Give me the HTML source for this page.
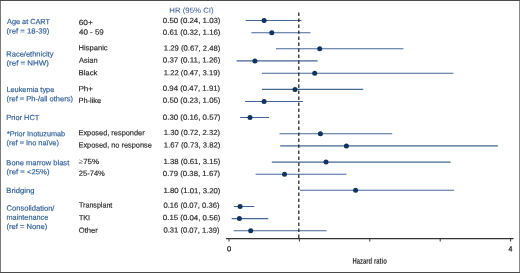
<!DOCTYPE html>
<html><head><meta charset="utf-8"><title>Forest plot</title>
<style>
html,body{margin:0;padding:0;background:#fff;}
body{width:520px;height:273px;overflow:hidden;font-family:"Liberation Sans",sans-serif;}
svg{display:block;will-change:transform;}
svg text{font-family:"Liberation Sans",sans-serif;}
</style></head><body>
<svg width="520" height="273" viewBox="0 0 520 273">
<text transform="matrix(0.9896 0.001 0 1 7.00 24.1)" font-size="7.4" fill="#305f98" stroke="#305f98" stroke-width="0.17">Age at CART</text>
<text transform="matrix(1.0533 0.001 0 1 6.47 33.5)" font-size="7.4" fill="#305f98" stroke="#305f98" stroke-width="0.17">(ref = 18-39)</text>
<text transform="matrix(1.0142 0.001 0 1 6.37 56.4)" font-size="7.4" fill="#305f98" stroke="#305f98" stroke-width="0.17">Race/ethnicity</text>
<text transform="matrix(1.0718 0.001 0 1 6.46 65.5)" font-size="7.4" fill="#305f98" stroke="#305f98" stroke-width="0.17">(ref = NHW)</text>
<text transform="matrix(0.9973 0.001 0 1 6.38 91.9)" font-size="7.4" fill="#305f98" stroke="#305f98" stroke-width="0.17">Leukemia type</text>
<text transform="matrix(1.0151 0.001 0 1 6.49 101.3)" font-size="7.4" fill="#305f98" stroke="#305f98" stroke-width="0.17">(ref = Ph-/all others)</text>
<text transform="matrix(1.0054 0.001 0 1 6.37 120.1)" font-size="7.4" fill="#305f98" stroke="#305f98" stroke-width="0.17">Prior HCT</text>
<text transform="matrix(0.9855 0.001 0 1 6.88 136.25)" font-size="7.4" fill="#305f98" stroke="#305f98" stroke-width="0.17">*Prior Inotuzumab</text>
<text transform="matrix(1.0024 0.001 0 1 6.50 145.3)" font-size="7.4" fill="#305f98" stroke="#305f98" stroke-width="0.17">(ref = Ino naïve)</text>
<text transform="matrix(1.0197 0.001 0 1 6.36 165.3)" font-size="7.4" fill="#305f98" stroke="#305f98" stroke-width="0.17">Bone marrow blast</text>
<text transform="matrix(1.0467 0.001 0 1 6.48 174.3)" font-size="7.4" fill="#305f98" stroke="#305f98" stroke-width="0.17">(ref = &lt;25%)</text>
<text transform="matrix(1.0346 0.001 0 1 6.35 192.9)" font-size="7.4" fill="#305f98" stroke="#305f98" stroke-width="0.17">Bridging</text>
<text transform="matrix(1.0221 0.001 0 1 6.62 210.6)" font-size="7.4" fill="#305f98" stroke="#305f98" stroke-width="0.17">Consolidation/</text>
<text transform="matrix(0.9880 0.001 0 1 6.51 219.8)" font-size="7.4" fill="#305f98" stroke="#305f98" stroke-width="0.17">maintenance</text>
<text transform="matrix(1.0304 0.001 0 1 6.48 228.9)" font-size="7.4" fill="#305f98" stroke="#305f98" stroke-width="0.17">(ref = None)</text>
<text transform="matrix(1.1319 0.001 0 1 78.68 25.1)" font-size="7.4" fill="#2a2a2a" stroke="#2a2a2a" stroke-width="0.17">60+</text>
<text transform="matrix(1.0800 0.001 0 1 78.96 34.6)" font-size="7.4" fill="#2a2a2a" stroke="#2a2a2a" stroke-width="0.17">40 - 59</text>
<text transform="matrix(1.0291 0.001 0 1 78.46 50.3)" font-size="7.4" fill="#2a2a2a" stroke="#2a2a2a" stroke-width="0.17">Hispanic</text>
<text transform="matrix(1.0000 0.001 0 1 79.10 62.8)" font-size="7.4" fill="#2a2a2a" stroke="#2a2a2a" stroke-width="0.17">Asian</text>
<text transform="matrix(1.0532 0.001 0 1 78.44 75.3)" font-size="7.4" fill="#2a2a2a" stroke="#2a2a2a" stroke-width="0.17">Black</text>
<text transform="matrix(1.0990 0.001 0 1 78.41 91.3)" font-size="7.4" fill="#2a2a2a" stroke="#2a2a2a" stroke-width="0.17">Ph+</text>
<text transform="matrix(1.0035 0.001 0 1 78.47 102.9)" font-size="7.4" fill="#2a2a2a" stroke="#2a2a2a" stroke-width="0.17">Ph-like</text>
<text transform="matrix(1.0019 0.001 0 1 78.47 135.2)" font-size="7.4" fill="#2a2a2a" stroke="#2a2a2a" stroke-width="0.17">Exposed, responder</text>
<text transform="matrix(0.9983 0.001 0 1 78.48 147.5)" font-size="7.4" fill="#2a2a2a" stroke="#2a2a2a" stroke-width="0.17">Exposed, no response</text>
<text transform="matrix(1.0721 0.001 0 1 78.83 164.1)" font-size="7.4" fill="#2a2a2a" stroke="#2a2a2a" stroke-width="0.17"><tspan fill="#777" stroke="none">≥</tspan>75%</text>
<text transform="matrix(1.0251 0.001 0 1 78.72 175.8)" font-size="7.4" fill="#2a2a2a" stroke="#2a2a2a" stroke-width="0.17">25-74%</text>
<text transform="matrix(0.9623 0.001 0 1 78.98 207.6)" font-size="7.4" fill="#2a2a2a" stroke="#2a2a2a" stroke-width="0.17">Transplant</text>
<text transform="matrix(0.9694 0.001 0 1 78.98 220.2)" font-size="7.4" fill="#2a2a2a" stroke="#2a2a2a" stroke-width="0.17">TKI</text>
<text transform="matrix(1.0333 0.001 0 1 78.71 232.8)" font-size="7.4" fill="#2a2a2a" stroke="#2a2a2a" stroke-width="0.17">Other</text>
<text transform="matrix(1.0636 0.001 0 1 162.83 23.0)" font-size="7.4" fill="#2a2a2a" stroke="#2a2a2a" stroke-width="0.17">0.50 (0.24, 1.03)</text>
<text transform="matrix(1.0636 0.001 0 1 162.83 34.8)" font-size="7.4" fill="#2a2a2a" stroke="#2a2a2a" stroke-width="0.17">0.61 (0.32, 1.16)</text>
<text transform="matrix(1.0447 0.001 0 1 163.85 50.6)" font-size="7.4" fill="#2a2a2a" stroke="#2a2a2a" stroke-width="0.17">1.29 (0.67, 2.48)</text>
<text transform="matrix(1.0736 0.001 0 1 162.83 62.4)" font-size="7.4" fill="#2a2a2a" stroke="#2a2a2a" stroke-width="0.17">0.37 (0.11, 1.26)</text>
<text transform="matrix(1.0372 0.001 0 1 163.85 75.2)" font-size="7.4" fill="#2a2a2a" stroke="#2a2a2a" stroke-width="0.17">1.22 (0.47, 3.19)</text>
<text transform="matrix(1.0561 0.001 0 1 162.84 90.8)" font-size="7.4" fill="#2a2a2a" stroke="#2a2a2a" stroke-width="0.17">0.94 (0.47, 1.91)</text>
<text transform="matrix(1.0636 0.001 0 1 162.83 102.7)" font-size="7.4" fill="#2a2a2a" stroke="#2a2a2a" stroke-width="0.17">0.50 (0.23, 1.05)</text>
<text transform="matrix(1.0636 0.001 0 1 162.83 119.7)" font-size="7.4" fill="#2a2a2a" stroke="#2a2a2a" stroke-width="0.17">0.30 (0.16, 0.57)</text>
<text transform="matrix(1.0372 0.001 0 1 163.85 135.0)" font-size="7.4" fill="#2a2a2a" stroke="#2a2a2a" stroke-width="0.17">1.30 (0.72, 2.32)</text>
<text transform="matrix(1.0447 0.001 0 1 163.85 147.4)" font-size="7.4" fill="#2a2a2a" stroke="#2a2a2a" stroke-width="0.17">1.67 (0.73, 3.82)</text>
<text transform="matrix(1.0522 0.001 0 1 163.44 164.0)" font-size="7.4" fill="#2a2a2a" stroke="#2a2a2a" stroke-width="0.17">1.38 (0.61, 3.15)</text>
<text transform="matrix(1.0561 0.001 0 1 162.84 175.9)" font-size="7.4" fill="#2a2a2a" stroke="#2a2a2a" stroke-width="0.17">0.79 (0.38, 1.67)</text>
<text transform="matrix(1.0522 0.001 0 1 163.44 193.1)" font-size="7.4" fill="#2a2a2a" stroke="#2a2a2a" stroke-width="0.17">1.80 (1.01, 3.20)</text>
<text transform="matrix(1.0336 0.001 0 1 163.44 207.8)" font-size="7.4" fill="#2a2a2a" stroke="#2a2a2a" stroke-width="0.17">0.16 (0.07, 0.36)</text>
<text transform="matrix(1.0636 0.001 0 1 162.83 220.1)" font-size="7.4" fill="#2a2a2a" stroke="#2a2a2a" stroke-width="0.17">0.15 (0.04, 0.56)</text>
<text transform="matrix(1.0336 0.001 0 1 163.44 232.6)" font-size="7.4" fill="#2a2a2a" stroke="#2a2a2a" stroke-width="0.17">0.31 (0.07, 1.39)</text>
<text transform="matrix(1.0577 0.001 0 1 169.24 12.7)" font-size="7.4" fill="#3a6094" stroke="#3a6094" stroke-width="0.05">HR (95% CI)</text>
<text transform="matrix(1.0571 0.001 0 1 226.94 251.3)" font-size="7.2" fill="#222" stroke="#222" stroke-width="0.25">0</text>
<text transform="matrix(0.9655 0.001 0 1 508.58 251.3)" font-size="7.2" fill="#222" stroke="#222" stroke-width="0.25">4</text>
<text transform="matrix(0.7074 0.001 0 1 352.46 263.75)" font-size="8.4" fill="#2e2e2e" stroke="#2e2e2e" stroke-width="0.0" font-weight="700">Hazard ratio</text>
<g stroke="#436792" stroke-width="1.1">
<line x1="245.7" y1="20.5" x2="301.4" y2="20.5"/>
<line x1="251.4" y1="32.8" x2="310.5" y2="32.8"/>
<line x1="276.0" y1="48.7" x2="403.4" y2="48.7"/>
<line x1="236.6" y1="60.9" x2="317.6" y2="60.9"/>
<line x1="261.9" y1="73.3" x2="453.4" y2="73.3"/>
<line x1="261.9" y1="89.4" x2="363.3" y2="89.4"/>
<line x1="245.0" y1="101.5" x2="302.8" y2="101.5"/>
<line x1="240.1" y1="117.5" x2="269.0" y2="117.5"/>
<line x1="279.5" y1="133.8" x2="392.2" y2="133.8"/>
<line x1="280.2" y1="145.9" x2="497.8" y2="145.9"/>
<line x1="271.8" y1="162.1" x2="450.6" y2="162.1"/>
<line x1="255.6" y1="174.2" x2="346.4" y2="174.2"/>
<line x1="300.0" y1="190.3" x2="454.1" y2="190.3"/>
<line x1="233.8" y1="206.5" x2="254.2" y2="206.5"/>
<line x1="231.7" y1="218.6" x2="268.3" y2="218.6"/>
<line x1="233.8" y1="230.7" x2="326.7" y2="230.7"/>
</g>
<line x1="298.8" y1="12.4" x2="298.8" y2="238" stroke="#222" stroke-width="1.25" stroke-dasharray="3.6 2.4"/>
<g fill="#11335f">
<circle cx="264.1" cy="20.5" r="2.5"/>
<circle cx="271.8" cy="32.8" r="2.5"/>
<circle cx="319.7" cy="48.7" r="2.5"/>
<circle cx="254.9" cy="60.9" r="2.5"/>
<circle cx="314.7" cy="73.3" r="2.5"/>
<circle cx="295.0" cy="89.4" r="2.5"/>
<circle cx="264.1" cy="101.5" r="2.5"/>
<circle cx="250.0" cy="117.5" r="2.5"/>
<circle cx="320.4" cy="133.8" r="2.5"/>
<circle cx="346.4" cy="145.9" r="2.5"/>
<circle cx="326.0" cy="162.1" r="2.5"/>
<circle cx="284.5" cy="174.2" r="2.5"/>
<circle cx="355.6" cy="190.3" r="2.5"/>
<circle cx="240.1" cy="206.5" r="2.5"/>
<circle cx="239.4" cy="218.6" r="2.5"/>
<circle cx="250.7" cy="230.7" r="2.5"/>
</g>
<g stroke="#333" stroke-width="1.2">
<line x1="226" y1="238.6" x2="513.5" y2="238.6"/>
<line x1="229.0" y1="238.6" x2="229.0" y2="241.5" stroke-width="1"/>
<line x1="299.4" y1="238.6" x2="299.4" y2="241.5" stroke-width="1"/>
<line x1="369.8" y1="238.6" x2="369.8" y2="241.5" stroke-width="1"/>
<line x1="440.2" y1="238.6" x2="440.2" y2="241.5" stroke-width="1"/>
<line x1="510.6" y1="238.6" x2="510.6" y2="241.5" stroke-width="1"/>
</g>
<g fill="none" stroke-width="1"><path d="M519.5 0V273" stroke="#888"/><path d="M0.5 0V273" stroke="#787878"/><path d="M0 0.5H520" stroke="#4c4c4c"/><path d="M0 272.5H520" stroke="#4a4a4a"/></g>
</svg>
</body></html>
